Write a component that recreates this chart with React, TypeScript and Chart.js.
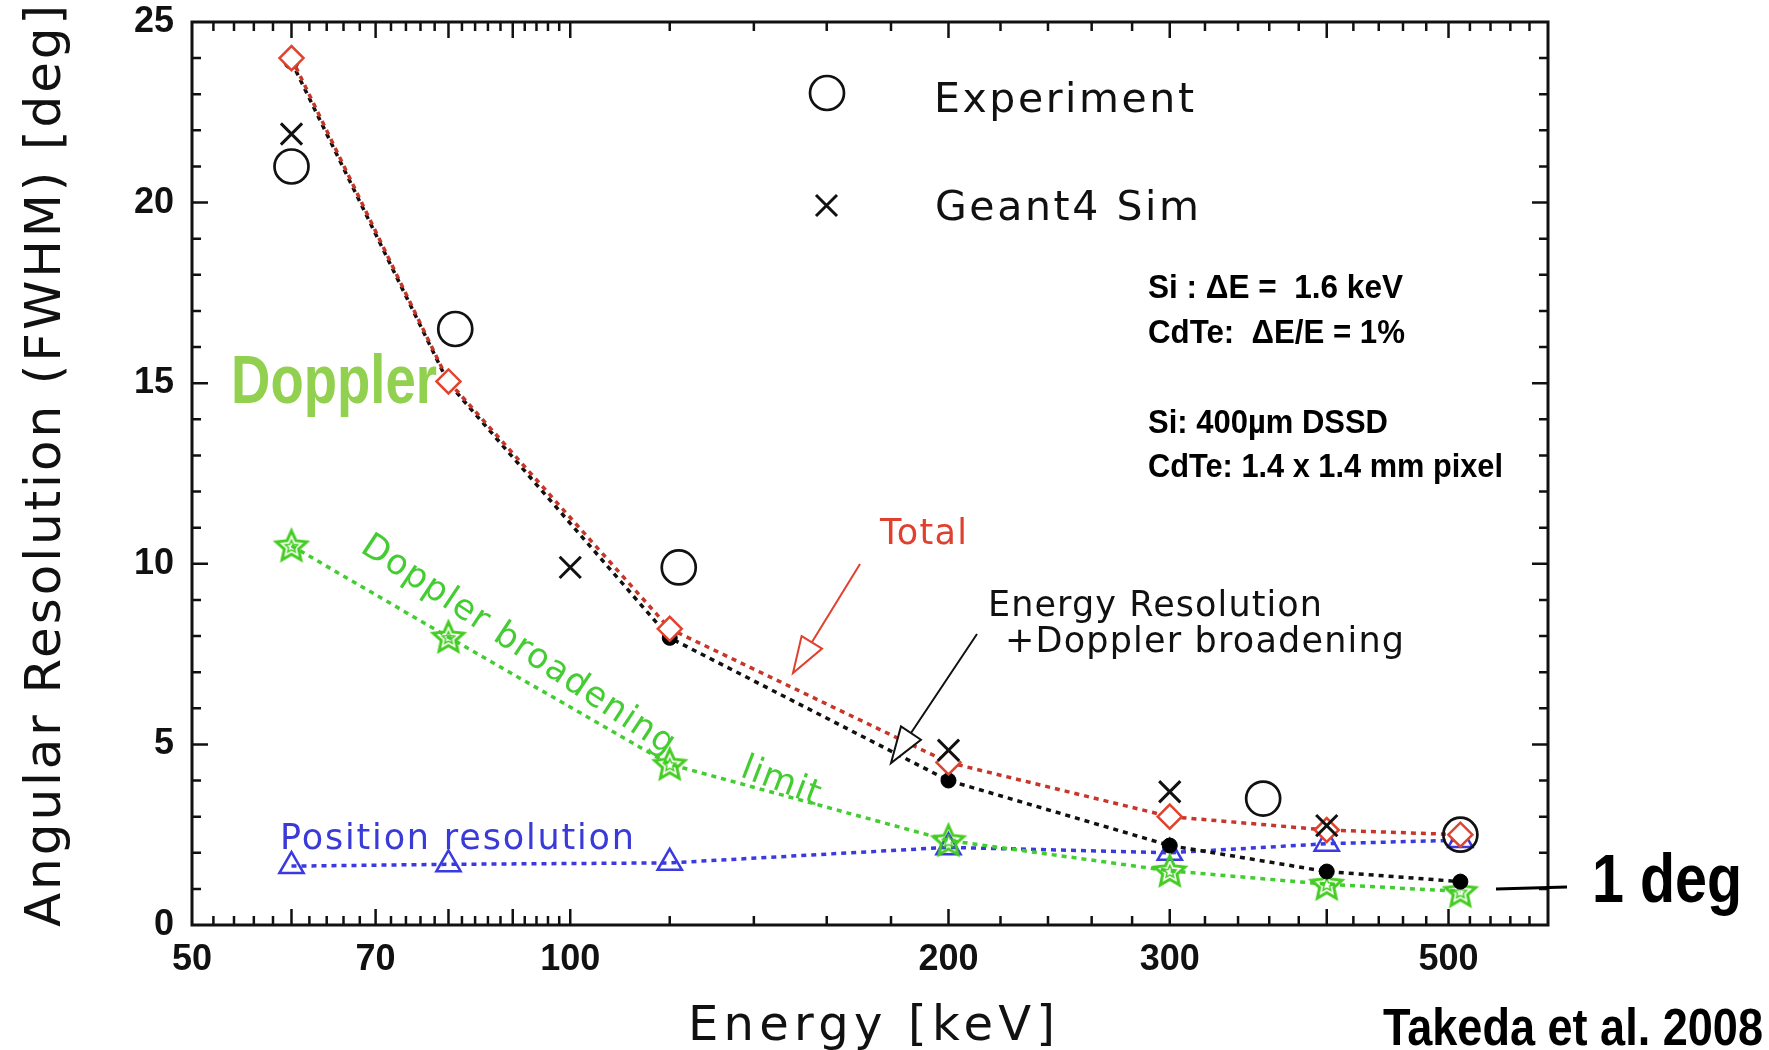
import React, { useEffect, useRef } from 'react';
import { Chart, registerables } from 'chart.js';

Chart.register(...registerables);

// ---- data ----
const MODEL_ENERGY = [60, 80, 120, 200, 300, 400, 511];
const TOTAL = [24.0, 15.05, 8.2, 4.5, 3.0, 2.63, 2.5];
const ERES_DOPPLER = [23.9, 15.0, 7.95, 4.0, 2.2, 1.48, 1.2];
const DOPPLER_LIMIT = [10.5, 7.97, 4.45, 2.34, 1.5, 1.13, 0.93];
const POSITION_RES = [1.63, 1.68, 1.72, 2.15, 2.0, 2.25, 2.35];
const EXP_ENERGY = [60, 81, 122, 356, 511];
const EXPERIMENT = [21.0, 16.5, 9.9, 3.5, 2.5];
const SIM_ENERGY = [60, 100, 200, 300, 400];
const GEANT4_SIM = [21.9, 9.9, 4.84, 3.69, 2.75];
const X_TICKS = [50, 70, 100, 200, 300, 500];
const Y_TICKS = [0, 5, 10, 15, 20, 25];
const X_LONG_TICKS = [60, 70, 80, 90, 100, 200, 300, 400, 500];

const IDL_FONT = "'DejaVu Sans', 'Open Sans', sans-serif";
const BOLD_FONT = "'Liberation Sans', Arial, sans-serif";

function pts(xs: number[], ys: number[]) {
  return xs.map((x, i) => ({ x, y: ys[i] }));
}

function makeStar(color: string) {
  const size = 42;
  const c = document.createElement('canvas');
  c.width = size;
  c.height = size;
  const g = c.getContext('2d')!;
  g.translate(size / 2, size / 2 + 1);
  const star = (R: number, r: number, lw: number) => {
    g.beginPath();
    for (let i = 0; i < 10; i++) {
      const a = -Math.PI / 2 + (i * Math.PI) / 5;
      const rr = i % 2 ? r : R;
      g.lineTo(rr * Math.cos(a), rr * Math.sin(a));
    }
    g.closePath();
    g.strokeStyle = color;
    g.lineWidth = lw;
    g.stroke();
  };
  star(16, 7.5, 3);
  star(6.5, 3, 1.5);
  return c;
}

function drawFit(
  ctx: CanvasRenderingContext2D,
  text: string,
  x: number,
  y: number,
  w: number,
  font: string,
  color: string,
  mode: 'scale' | 'space',
  angle = 0
) {
  ctx.save();
  ctx.font = font;
  ctx.fillStyle = color;
  ctx.textAlign = 'left';
  ctx.textBaseline = 'alphabetic';
  (ctx as any).letterSpacing = '0px';
  const w0 = ctx.measureText(text).width;
  ctx.translate(x, y);
  ctx.rotate(angle);
  if (mode === 'scale') {
    ctx.scale(w / w0, 1);
  } else {
    const sp = (w - w0) / Math.max(1, text.length - 1);
    (ctx as any).letterSpacing = sp + 'px';
  }
  ctx.fillText(text, 0, 0);
  ctx.restore();
}

function arrow(
  ctx: CanvasRenderingContext2D,
  x1: number,
  y1: number,
  x2: number,
  y2: number,
  color: string
) {
  const dx = x2 - x1;
  const dy = y2 - y1;
  const len = Math.hypot(dx, dy);
  const ux = dx / len;
  const uy = dy / len;
  const hl = 36;
  const hw = 12;
  const bx = x2 - ux * hl;
  const by = y2 - uy * hl;
  ctx.save();
  ctx.strokeStyle = color;
  ctx.lineWidth = 2;
  ctx.beginPath();
  ctx.moveTo(x1, y1);
  ctx.lineTo(bx, by);
  ctx.stroke();
  ctx.beginPath();
  ctx.moveTo(x2, y2);
  ctx.lineTo(bx - uy * hw, by + ux * hw);
  ctx.lineTo(bx + uy * hw, by - ux * hw);
  ctx.closePath();
  ctx.fillStyle = '#ffffff';
  ctx.fill();
  ctx.stroke();
  ctx.restore();
}

const framePlugin = {
  id: 'idlFrame',
  beforeDatasetsDraw(chart: any) {
    const { ctx, chartArea: a, scales } = chart;
    const xs = scales.x;
    const ys = scales.y;
    ctx.save();
    ctx.strokeStyle = '#111';
    ctx.lineWidth = 2.5;
    ctx.lineCap = 'butt';
    // x ticks (bottom and top, inward)
    const xt: number[] = [];
    for (let v = 52; v < 100; v += 2) xt.push(v);
    for (let v = 100; v <= 600; v += 20) xt.push(v);
    ctx.beginPath();
    for (const v of xt) {
      const px = xs.getPixelForValue(v);
      if (px <= a.left + 1 || px >= a.right - 1) continue;
      const L = X_LONG_TICKS.includes(v) ? 16 : 9;
      ctx.moveTo(px, a.bottom);
      ctx.lineTo(px, a.bottom - L);
      ctx.moveTo(px, a.top);
      ctx.lineTo(px, a.top + L);
    }
    // y ticks (left and right, inward)
    for (let v = 1; v < 25; v++) {
      const py = ys.getPixelForValue(v);
      const L = v % 5 === 0 ? 16 : 9;
      ctx.moveTo(a.left, py);
      ctx.lineTo(a.left + L, py);
      ctx.moveTo(a.right, py);
      ctx.lineTo(a.right - L, py);
    }
    ctx.stroke();
    ctx.lineWidth = 3;
    ctx.strokeRect(a.left, a.top, a.right - a.left, a.bottom - a.top);
    ctx.restore();
  },
  afterDatasetsDraw(chart: any) {
    const ctx: CanvasRenderingContext2D = chart.ctx;
    // axis titles
    drawFit(ctx, 'Angular Resolution (FWHM) [deg]', 60, 927, 922, `50px ${IDL_FONT}`, '#111', 'space', -Math.PI / 2);
    drawFit(ctx, 'Energy [keV]', 688, 1040, 367, `48px ${IDL_FONT}`, '#111', 'space');

    // legend
    ctx.save();
    ctx.strokeStyle = '#111';
    ctx.lineWidth = 2.7;
    ctx.beginPath();
    ctx.arc(827, 93, 17, 0, Math.PI * 2);
    ctx.stroke();
    ctx.lineWidth = 3;
    ctx.beginPath();
    ctx.moveTo(816, 195);
    ctx.lineTo(837, 216);
    ctx.moveTo(837, 195);
    ctx.lineTo(816, 216);
    ctx.stroke();
    ctx.restore();
    drawFit(ctx, 'Experiment', 934, 112, 260, `41px ${IDL_FONT}`, '#111', 'space');
    drawFit(ctx, 'Geant4 Sim', 935, 220, 264, `41px ${IDL_FONT}`, '#111', 'space');

    // IDL annotations
    drawFit(ctx, 'Total', 880, 544, 87, `35px ${IDL_FONT}`, '#e0402e', 'space');
    drawFit(ctx, 'Energy Resolution', 988, 616, 334, `35px ${IDL_FONT}`, '#111', 'space');
    drawFit(ctx, '+Doppler broadening', 1005, 652, 399, `35px ${IDL_FONT}`, '#111', 'space');
    drawFit(ctx, 'Position resolution', 280, 849, 354, `35px ${IDL_FONT}`, '#3a3ad8', 'space');
    drawFit(ctx, 'Doppler broadening', 359, 551, 369, `35px ${IDL_FONT}`, '#44cc33', 'space', (33.6 * Math.PI) / 180);
    drawFit(ctx, 'limit', 739, 776, 82, `35px ${IDL_FONT}`, '#44cc33', 'space', (21 * Math.PI) / 180);

    arrow(ctx, 860, 564, 793, 673, '#e0402e');
    arrow(ctx, 977, 634, 891, 763, '#111');

    // bold condensed overlays
    drawFit(ctx, 'Doppler', 231, 403, 206, `bold 69px ${BOLD_FONT}`, '#92d050', 'scale');
    drawFit(ctx, 'Si : \u0394E =  1.6 keV', 1148, 298, 255, `bold 33px ${BOLD_FONT}`, '#000', 'scale');
    drawFit(ctx, 'CdTe:  \u0394E/E = 1%', 1148, 343, 257, `bold 33px ${BOLD_FONT}`, '#000', 'scale');
    drawFit(ctx, 'Si: 400\u00b5m DSSD', 1148, 433, 240, `bold 33px ${BOLD_FONT}`, '#000', 'scale');
    drawFit(ctx, 'CdTe: 1.4 x 1.4 mm pixel', 1148, 477, 355, `bold 33px ${BOLD_FONT}`, '#000', 'scale');
    drawFit(ctx, '1 deg', 1592, 902, 150, `bold 68px ${BOLD_FONT}`, '#000', 'scale');
    drawFit(ctx, 'Takeda et al. 2008', 1383, 1045, 380, `bold 51px ${BOLD_FONT}`, '#000', 'scale');

    ctx.save();
    ctx.strokeStyle = '#000';
    ctx.lineWidth = 3;
    ctx.beginPath();
    ctx.moveTo(1496, 889);
    ctx.lineTo(1567, 887);
    ctx.stroke();
    ctx.restore();
  },
};

export default function App() {
  const ref = useRef<HTMLCanvasElement | null>(null);

  useEffect(() => {
    if (!ref.current) return;
    document.body.style.margin = '0';
    const star = makeStar('#44cc22');
    const xTickFont = { family: BOLD_FONT, size: 36, weight: 'bold' as const };
    const yTickFont = { family: BOLD_FONT, size: 36, weight: 'bold' as const, lineHeight: 0.1 };
    const chart = new Chart(ref.current, {
      type: 'scatter',
      data: {
        datasets: [
          {
            label: 'Experiment',
            data: pts(EXP_ENERGY, EXPERIMENT),
            showLine: false,
            pointStyle: 'circle',
            pointRadius: 17,
            pointBorderWidth: 2.7,
            pointBorderColor: '#111',
            pointBackgroundColor: 'rgba(0,0,0,0)',
            order: 0,
          },
          {
            label: 'Geant4 Sim',
            data: pts(SIM_ENERGY, GEANT4_SIM),
            showLine: false,
            pointStyle: 'crossRot',
            pointRadius: 15,
            pointBorderWidth: 3,
            pointBorderColor: '#111',
            order: 1,
          },
          {
            label: 'Total',
            data: pts(MODEL_ENERGY, TOTAL),
            showLine: true,
            borderColor: '#c8362a',
            borderWidth: 3.5,
            borderDash: [5, 5],
            pointStyle: 'rectRot',
            pointRadius: 12,
            pointBorderWidth: 2.5,
            pointBorderColor: '#e0442e',
            pointBackgroundColor: '#ffffff',
            order: 2,
          },
          {
            label: 'Energy Resolution + Doppler broadening',
            data: pts(MODEL_ENERGY, ERES_DOPPLER),
            showLine: true,
            borderColor: '#111',
            borderWidth: 3.5,
            borderDash: [5, 5],
            pointStyle: 'circle',
            pointRadius: 7.5,
            pointBorderWidth: 1,
            pointBorderColor: '#000',
            pointBackgroundColor: '#000',
            order: 3,
          },
          {
            label: 'Doppler broadening limit',
            data: pts(MODEL_ENERGY, DOPPLER_LIMIT),
            showLine: true,
            borderColor: '#44cc33',
            borderWidth: 3.5,
            borderDash: [5, 5],
            pointStyle: star as any,
            pointRadius: 15,
            order: 4,
          },
          {
            label: 'Position resolution',
            data: pts(MODEL_ENERGY, POSITION_RES),
            showLine: true,
            borderColor: '#3a3ae0',
            borderWidth: 3.5,
            borderDash: [5, 5],
            pointStyle: 'triangle',
            pointRadius: 14,
            pointBorderWidth: 2.5,
            pointBorderColor: '#3a3ae0',
            pointBackgroundColor: 'rgba(0,0,0,0)',
            order: 5,
          },
        ],
      },
      options: {
        responsive: false,
        animation: false,
        events: [],
        layout: { padding: { left: 0, top: 22, right: 221, bottom: 0 } },
        plugins: { legend: { display: false }, tooltip: { enabled: false } },
        scales: {
          x: {
            type: 'logarithmic',
            min: 50,
            max: 600,
            position: 'bottom',
            grid: { display: false, drawTicks: false },
            border: { display: false },
            afterBuildTicks: (s: any) => {
              s.ticks = X_TICKS.map((v) => ({ value: v }));
            },
            afterFit: (s: any) => {
              s.height = 125;
            },
            ticks: {
              autoSkip: false,
              maxRotation: 0,
              minRotation: 0,
              padding: 13,
              color: '#111',
              font: xTickFont,
              callback: (v: any) => String(v),
            },
          },
          y: {
            type: 'linear',
            min: 0,
            max: 25,
            position: 'left',
            grid: { display: false, drawTicks: false },
            border: { display: false },
            afterBuildTicks: (s: any) => {
              s.ticks = Y_TICKS.map((v) => ({ value: v }));
            },
            afterFit: (s: any) => {
              s.width = 192;
            },
            ticks: {
              padding: 18,
              color: '#111',
              font: yTickFont,
              callback: (v: any) => String(v),
            },
          },
        },
      },
      plugins: [framePlugin],
    });
    return () => chart.destroy();
  }, []);

  return (
    <div style={{ position: 'absolute', left: 0, top: 0, width: 1769, height: 1050, background: '#fff' }}>
      <canvas ref={ref} width={1769} height={1050} style={{ width: 1769, height: 1050 }} />
    </div>
  );
}
